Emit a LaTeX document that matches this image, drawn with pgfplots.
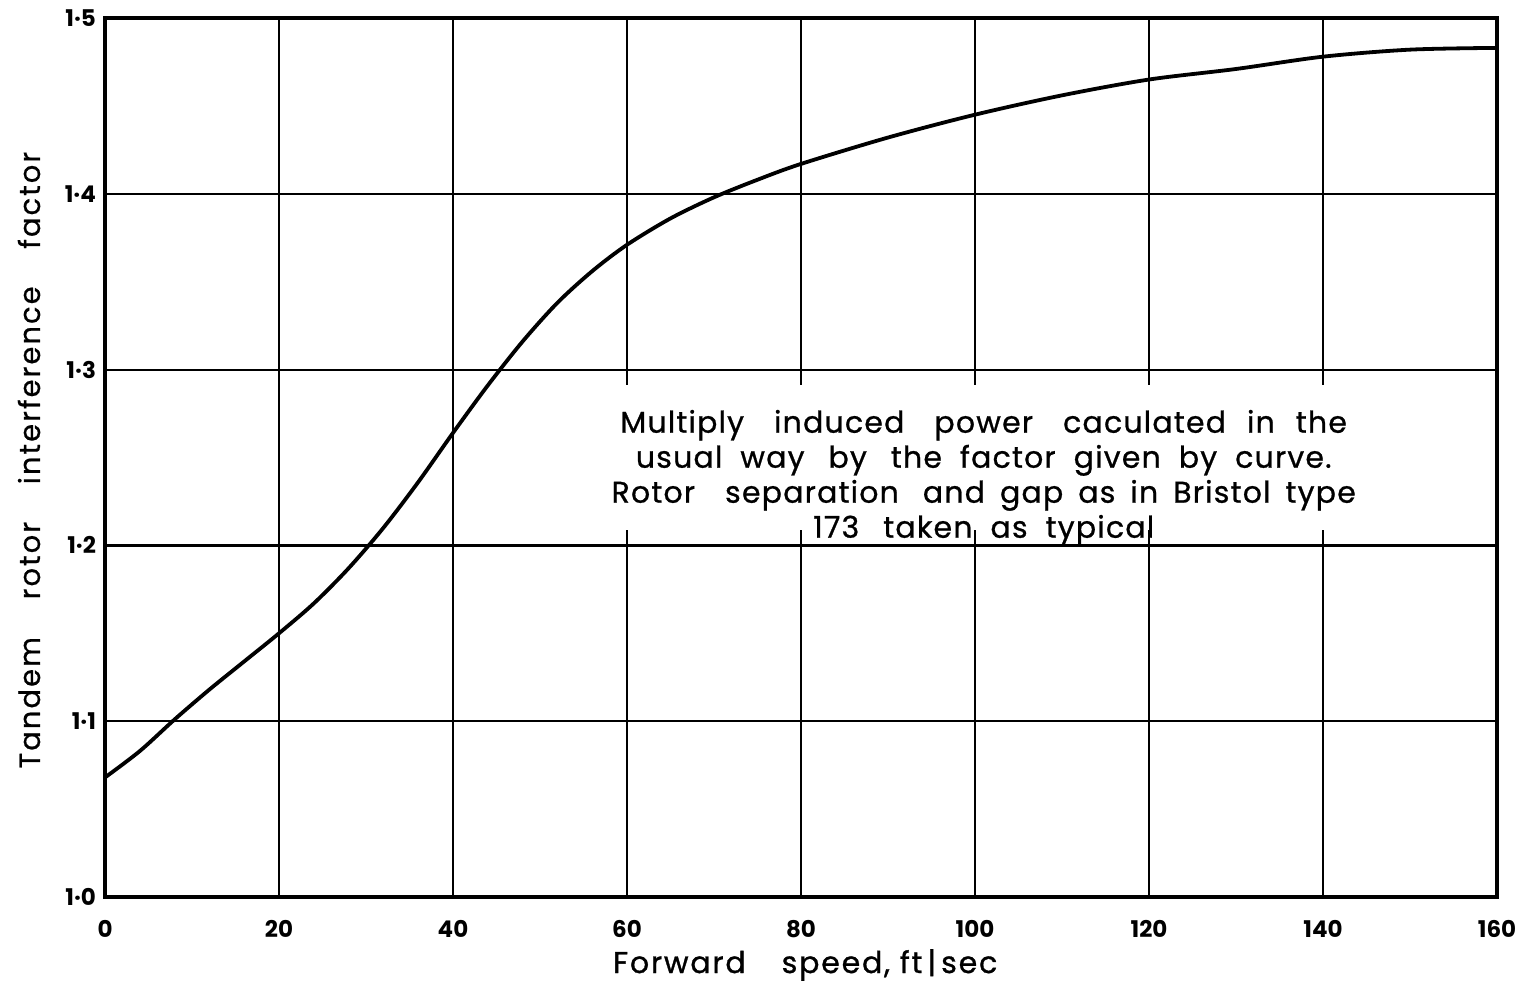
\documentclass[border=0pt]{standalone}
\usepackage{fontspec}
\setmainfont{Poppins}
\usepackage{pgfplots}
\pgfplotsset{compat=1.18}

% Tandem rotor interference factor against forward speed
\pgfplotstableread{
speed factor
0    1.068
4    1.083
8    1.101
12   1.118
16   1.134
20   1.150
24   1.167
28   1.187
32   1.210
36   1.236
40   1.264
44   1.291
48   1.316
52   1.338
56   1.356
60   1.371
65   1.386
70   1.398
75   1.408
80   1.417
90   1.432
100  1.445
110  1.456
120  1.465
130  1.471
140  1.478
150  1.482
160  1.483
}\interference

\begin{document}
\begin{tikzpicture}
\begin{axis}[
  scale only axis,
  width=696pt, height=439.5pt,
  xmin=0, xmax=160, ymin=1.0, ymax=1.5,
  xtick={0,20,...,160},
  ytick={1.0,1.1,1.2,1.3,1.4,1.5},
  yticklabels={1·0,1·1,1·2,1·3,1·4,1·5},
  /pgf/number format/assume math mode=true,
  grid=major,
  major grid style={black, line width=1.1pt},
  axis line style={black, line width=1.7pt},
  major tick length=0pt,
  tick label style={font=\fontsize{11.5}{13}\selectfont\bfseries},
  xticklabel style={yshift=-8pt},
  yticklabel style={xshift=-1pt},
  xlabel={Forward\hspace{1.2em}speed,\ ft\,|\,sec},
  ylabel={Tandem\hspace{1.3em}rotor\hspace{1.3em}interference\hspace{1.3em}factor},
  xlabel style={at={(axis description cs:0.503,0)}, anchor=center, yshift=-34pt,
    font=\fontsize{15}{17}\selectfont\addfontfeatures{LetterSpace=6,FakeBold=1}},
  ylabel style={at={(axis description cs:0,0.497)}, anchor=center, yshift=38pt,
    font=\fontsize{14.5}{16}\selectfont\addfontfeatures{LetterSpace=7,FakeBold=0.6}},
]
\addplot[black, line width=1.9pt, smooth, tension=0.5] table[x=speed, y=factor] {\interference};

% cleared panel behind the note
\fill[white] (axis cs:57,1.2085) rectangle (axis cs:145,1.291);
\node[align=center, font=\fontsize{15}{17.5}\selectfont\addfontfeatures{LetterSpace=4,FakeBold=0.8}]
  at (axis cs:101.0,1.2385) {%
  Multiply\hspace{1em}induced\hspace{1em}power\hspace{1em}caculated\hspace{0.7em}in\hspace{0.7em}the\\
  usual\hspace{0.6em}way\hspace{0.8em}by\hspace{0.8em}the\hspace{0.6em}factor\hspace{0.6em}given\hspace{0.6em}by\hspace{0.6em}curve.\\
  Rotor\hspace{1em}separation\hspace{0.8em}and\hspace{0.5em}gap\hspace{0.5em}as\hspace{0.5em}in\hspace{0.5em}Bristol\hspace{0.5em}type\\
  173\hspace{0.8em}taken\hspace{0.6em}as\hspace{0.6em}typical};
\end{axis}
\pgfresetboundingbox
\path (-52.5pt,-42pt) rectangle (707.5pt,448.5pt);
\end{tikzpicture}
\end{document}
